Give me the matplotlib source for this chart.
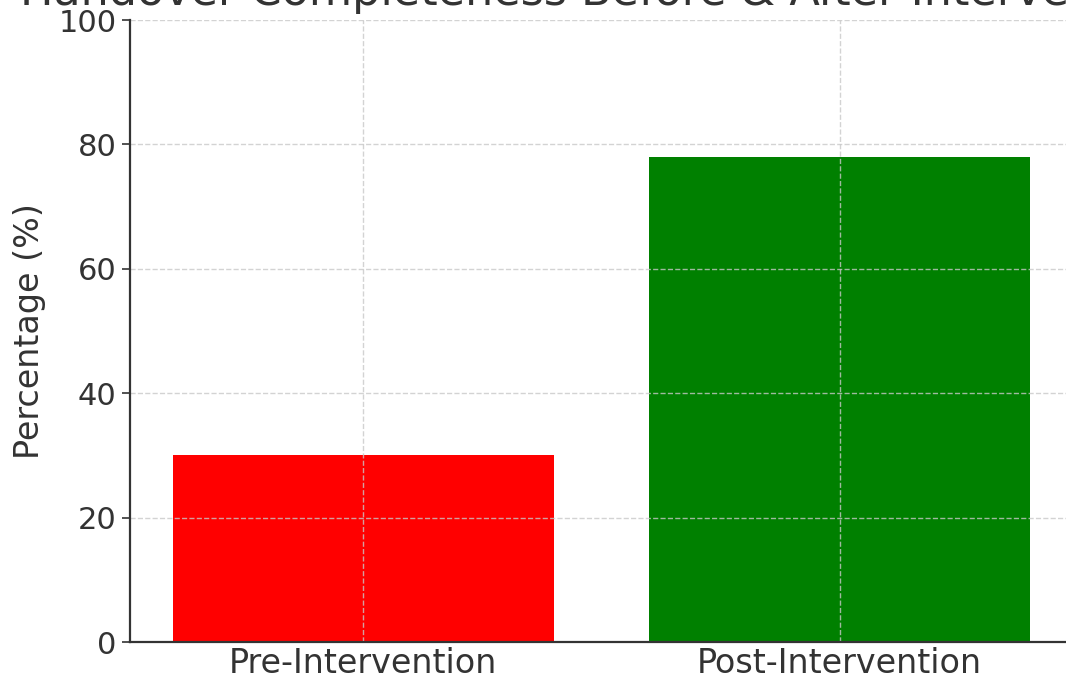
import matplotlib.pyplot as plt

categories = ["Pre-Intervention", "Post-Intervention"]
values = [30, 78]
colors = ["red", "green"]

fig = plt.figure(figsize=(10.66, 6.86), dpi=100)
ax = fig.add_axes([130 / 1066, 44 / 686, 943 / 1066, 622 / 686])

ax.bar(categories, values, color=colors, width=0.8)
ax.set_ylim(0, 100)
ax.set_xlim(-0.49, 1.49)
ax.set_title("Handover Completeness Before & After Intervention", fontsize=32,
             color="#333333", pad=11)
ax.set_ylabel("Percentage (%)", fontsize=24, color="#333333", labelpad=9)
ax.tick_params(axis="y", labelsize=22, colors="#333333", length=6, width=1.2)
ax.tick_params(axis="x", labelsize=24, colors="#333333", length=0)
ax.grid(True, linestyle="--", color="#c8c8c8", linewidth=1, alpha=0.8)
for s in ["top", "right"]:
    ax.spines[s].set_visible(False)
for s in ["left", "bottom"]:
    ax.spines[s].set_color("#333333")
    ax.spines[s].set_linewidth(1.6)

fig.savefig("out.png", dpi=100)
